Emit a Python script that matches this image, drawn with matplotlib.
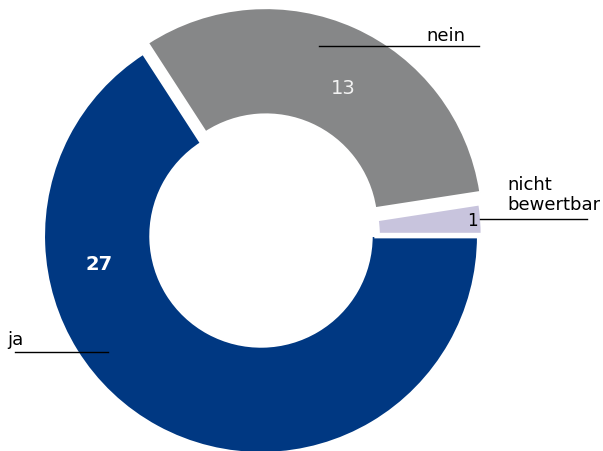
import matplotlib.pyplot as plt
from matplotlib.lines import Line2D

# Antworten (Anzahl)
labels = ["ja", "nein", "nicht\nbewertbar"]
values = [27, 13, 1]
colors = ["#003882", "#868788", "#c8c4dd"]

W, H = 603, 452
fig = plt.figure(figsize=(W / 100, H / 100), dpi=100)
ax = fig.add_axes([0, 0, 1, 1])

# donut, ja starts at 3 o'clock and runs clockwise
wedges, _ = ax.pie(values, colors=colors, startangle=0, counterclock=False,
                   explode=[0, 0.055, 0.025],
                   wedgeprops=dict(width=0.49, edgecolor="white", linewidth=1.5))
# thinner look for the small slice, like in the original
wedges[2].set_linewidth(4)

# centre of the ring at pixel (261, 237), radius 217 px
cx, cy, r = 261, 237, 217
ax.set_xlim(-cx / r, (W - cx) / r)
ax.set_ylim(-(H - cy) / r, cy / r)
ax.set_aspect("auto")
ax.axis("off")


def fx(px):
    return px / W


def fy(py):
    return 1 - py / H


def leader(x0, x1, y):
    fig.add_artist(Line2D([fx(x0), fx(x1)], [fy(y), fy(y)],
                          transform=fig.transFigure, color="black", lw=1))


# values inside the ring
fig.text(fx(99), fy(265), str(values[0]), color="white", fontsize=14,
         fontweight="bold", ha="center", va="center")
fig.text(fx(343), fy(89), str(values[1]), color="#f2f2f2", fontsize=14,
         ha="center", va="center")
fig.text(fx(478), fy(221), str(values[2]), color="black", fontsize=12,
         ha="right", va="center")

# category labels with leader lines
fig.text(fx(465), fy(41), labels[1], fontsize=13, ha="right", va="baseline")
leader(319, 479, 47)

fig.text(fx(507), fy(195), labels[2], fontsize=13, ha="left", va="center",
         linespacing=1.15)
leader(480, 587, 220)

fig.text(fx(7), fy(340), labels[0], fontsize=13, ha="left", va="center")
leader(15, 108, 353)

fig.savefig("out.png", dpi=100)
